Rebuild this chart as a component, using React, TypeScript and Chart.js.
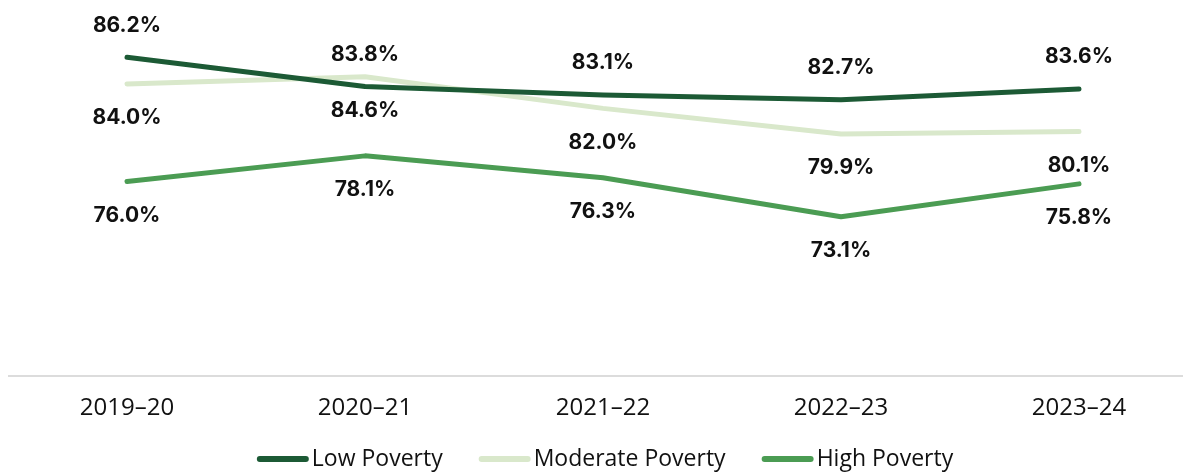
import React, { useEffect, useRef } from 'react';
import { Chart, registerables } from 'chart.js';

Chart.register(...registerables);

const categories = ['2019–20', '2020–21', '2021–22', '2022–23', '2023–24'];
const lowPoverty = [86.2, 83.8, 83.1, 82.7, 83.6];
const moderatePoverty = [84.0, 84.6, 82.0, 79.9, 80.1];
const highPoverty = [76.0, 78.1, 76.3, 73.1, 75.8];
const seriesNames = ['Low Poverty', 'Moderate Poverty', 'High Poverty'];
const seriesColors = ['#1c5a35', '#d9e8cb', '#4b9c53'];
const labelAbove = [true, false, false];

const labelPlugin = {
  id: 'pointLabels',
  afterDatasetsDraw(chart: any) {
    const ctx = chart.ctx;
    ctx.save();
    ctx.font = 'bold 21px Inter';
    ctx.fillStyle = '#111111';
    ctx.textAlign = 'center';
    ctx.textBaseline = 'middle';
    chart.data.datasets.forEach((ds: any, i: number) => {
      const meta = chart.getDatasetMeta(i);
      meta.data.forEach((pt: any, j: number) => {
        const v = ds.data[j] as number;
        const y = labelAbove[i] ? pt.y - 32 : pt.y + 34;
        ctx.fillText(v.toFixed(1) + '%', pt.x, y);
      });
    });
    ctx.restore();
  },
};

const legendPlugin = {
  id: 'customLegend',
  afterDraw(chart: any) {
    const ctx = chart.ctx;
    ctx.save();
    ctx.font = '23px "Open Sans"';
    const lineW = 52;
    const gap = 3;
    const itemGap = 36;
    const widths = seriesNames.map((n) => ctx.measureText(n).width);
    const total = widths.reduce((a, w) => a + lineW + gap + w, 0) + itemGap * (seriesNames.length - 1);
    let x = chart.width / 2 - total / 2 + 2;
    const y = 451;
    seriesNames.forEach((name, i) => {
      ctx.strokeStyle = seriesColors[i];
      ctx.lineWidth = 6;
      ctx.lineCap = 'round';
      ctx.beginPath();
      ctx.moveTo(x + 3, y);
      ctx.lineTo(x + lineW - 3, y);
      ctx.stroke();
      ctx.fillStyle = '#111111';
      ctx.textAlign = 'left';
      ctx.textBaseline = 'middle';
      ctx.fillText(name, x + lineW + gap, y);
      x += lineW + gap + widths[i] + itemGap;
    });
    ctx.restore();
  },
};

export default function App() {
  const canvasRef = useRef<HTMLCanvasElement | null>(null);

  useEffect(() => {
    if (!canvasRef.current) return;
    const seriesData = [lowPoverty, moderatePoverty, highPoverty];
    const chart = new Chart(canvasRef.current, {
      type: 'line',
      data: {
        labels: categories,
        datasets: seriesData.map((d, i) => ({
          label: seriesNames[i],
          data: d,
          borderColor: seriesColors[i],
          backgroundColor: seriesColors[i],
          borderWidth: 5,
          pointRadius: 0,
          pointHoverRadius: 0,
          tension: 0,
          borderCapStyle: 'round' as const,
          borderJoinStyle: 'round' as const,
        })),
      },
      options: {
        animation: false,
        responsive: true,
        maintainAspectRatio: false,
        layout: { padding: { top: 3, bottom: 32, left: 0, right: 0 } },
        plugins: {
          legend: { display: false },
          tooltip: { enabled: false },
        },
        scales: {
          x: {
            offset: true,
            grid: { display: false, drawTicks: false },
            border: { display: true, color: '#dcdcdc', width: 2 },
            ticks: {
              padding: 18,
              color: '#111111',
              font: { family: '"Open Sans"', size: 24 },
              maxRotation: 0,
            },
          },
          y: {
            display: false,
            min: 60,
            max: 90,
          },
        },
      },
      plugins: [labelPlugin, legendPlugin],
    });
    return () => chart.destroy();
  }, []);

  return (
    <div style={{ width: 1183, overflow: 'hidden' }}>
      <div style={{ width: 1190, height: 465, position: 'relative' }}>
        <canvas ref={canvasRef} />
      </div>
    </div>
  );
}
